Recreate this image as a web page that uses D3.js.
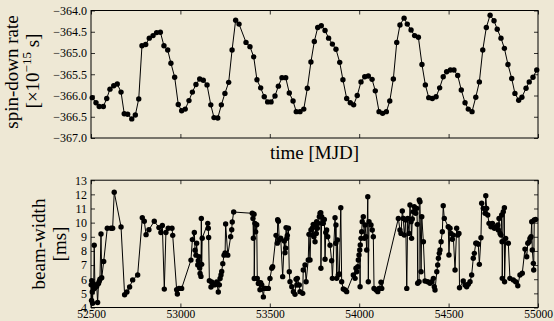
<!DOCTYPE html>
<html>
<head>
<meta charset="utf-8">
<script src="https://cdn.jsdelivr.net/npm/d3@7"></script>
<style>
  html, body { margin: 0; padding: 0; background: #eee8d5; }
  svg { display: block; }
  text { font-family: "Liberation Serif", "DejaVu Serif", serif; fill: #000; }
</style>
</head>
<body>
<figure id="chart" style="margin:0"></figure>
<script>
// spin-down rate (top panel)
const spinMjd = [52507, 52528, 52546, 52569, 52588, 52606, 52627, 52647, 52668, 52686,
  52705, 52728, 52748, 52767, 52785, 52806, 52826, 52847, 52867, 52888,
  52908, 52929, 52947, 52968, 52988, 53007, 53027, 53048, 53067, 53087,
  53108, 53128, 53149, 53170, 53188, 53209, 53229, 53249, 53270, 53289,
  53309, 53328, 53367, 53389, 53410, 53428, 53449, 53469, 53488, 53507,
  53529, 53548, 53568, 53589, 53609, 53630, 53648, 53669, 53690, 53710,
  53730, 53749, 53768, 53788, 53809, 53829, 53850, 53870, 53891, 53909,
  53930, 53950, 53969, 53989, 54010, 54031, 54051, 54072, 54090, 54111,
  54131, 54152, 54171, 54191, 54210, 54228, 54251, 54269, 54290, 54310,
  54331, 54351, 54370, 54389, 54409, 54430, 54450, 54470, 54489, 54510,
  54530, 54551, 54571, 54592, 54610, 54631, 54652, 54672, 54691, 54711,
  54732, 54754, 54772, 54793, 54812, 54832, 54853, 54871, 54892, 54910,
  54933, 54951, 54972, 54993];
const spinRate = [-366.05, -366.17, -366.26, -366.26, -366.07, -365.85, -365.77, -365.73, -365.92, -366.43,
  -366.44, -366.55, -366.46, -366.08, -364.83, -364.80, -364.65, -364.59, -364.52, -364.51,
  -364.83, -364.93, -365.24, -365.57, -366.21, -366.36, -366.32, -366.12, -365.92, -365.74,
  -365.61, -365.64, -365.75, -366.22, -366.52, -366.53, -366.22, -365.95, -365.69, -364.93,
  -364.23, -364.32, -364.75, -364.85, -365.09, -365.63, -365.82, -366.03, -366.15, -366.15,
  -366.01, -365.78, -365.58, -365.58, -365.94, -366.13, -366.38, -366.38, -366.32, -365.83,
  -365.21, -364.73, -364.40, -364.36, -364.47, -364.65, -364.79, -364.91, -365.22, -365.63,
  -366.07, -366.17, -366.22, -366.00, -365.68, -365.56, -365.54, -365.62, -365.89, -366.38,
  -366.42, -366.38, -366.13, -365.61, -364.75, -364.34, -364.18, -364.32, -364.46, -364.59,
  -364.63, -365.27, -365.75, -366.05, -366.07, -366.03, -365.82, -365.56, -365.44, -365.40,
  -365.40, -365.53, -365.87, -366.17, -366.32, -366.38, -366.04, -365.68, -364.93, -364.40,
  -364.11, -364.24, -364.44, -364.65, -364.89, -365.27, -365.60, -365.95, -366.11, -366.04,
  -365.83, -365.68, -365.57, -365.40];

// beam-width (bottom panel)
const beamMjd = [52501, 52503, 52504, 52507, 52509, 52511, 52515, 52518, 52522, 52527,
  52532, 52537, 52542, 52546, 52550, 52556, 52560, 52571, 52591, 52612,
  52621, 52630, 52668, 52688, 52701, 52716, 52733, 52761,
  52787, 52798, 52808, 52824, 52854, 52880, 52891, 52899, 52910, 52919,
  52932, 52953, 52957, 52979, 52983, 52992, 53007,
  53059, 53067, 53078, 53082, 53087, 53091, 53097, 53100, 53104, 53108,
  53110, 53115, 53117, 53119, 53122, 53153, 53156, 53158, 53162, 53171,
  53175, 53185, 53194, 53203, 53212, 53218, 53222, 53227, 53231, 53237,
  53244, 53250, 53253, 53265, 53281, 53287, 53290, 53298,
  53402, 53406, 53408, 53412, 53413, 53417, 53421, 53427, 53430, 53436,
  53440, 53445, 53449, 53455, 53464, 53469, 53477, 53492, 53501, 53511,
  53516, 53535, 53542, 53544, 53548, 53553, 53561, 53572, 53581, 53585,
  53589, 53591, 53595, 53598, 53604, 53609, 53613, 53623, 53632, 53641,
  53647, 53651, 53654, 53665, 53669, 53684, 53687, 53697, 53703, 53715,
  53719, 53725, 53730, 53738, 53740, 53743, 53747, 53753, 53757, 53760,
  53762, 53766, 53771, 53777, 53781, 53785, 53786, 53790, 53794, 53799,
  53805, 53809, 53813, 53818, 53824, 53837, 53846, 53850, 53865, 53869,
  53870, 53874, 53878, 53883, 53889, 53897, 53902, 53911, 53921, 53930,
  53967, 53977, 53982, 53986, 53992, 53995, 53999, 54003, 54005, 54006,
  54010, 54014, 54017, 54023, 54029, 54033, 54038, 54042, 54048, 54051,
  54055, 54066, 54073, 54079, 54083, 54094, 54104, 54111, 54122, 54126,
  54219, 54228, 54234, 54241, 54247, 54252, 54260, 54266, 54271, 54279,
  54284, 54290, 54293, 54297, 54303, 54308, 54316, 54322, 54325, 54327,
  54335, 54336, 54340, 54346, 54350, 54359, 54368, 54383, 54396, 54406,
  54415, 54420, 54424, 54434, 54439, 54443, 54448, 54452, 54458, 54465,
  54470, 54476,
  54498, 54502, 54508, 54513, 54521, 54526, 54536, 54545, 54551, 54558,
  54561, 54582, 54592, 54601, 54610, 54620, 54629, 54638, 54644, 54652,
  54657, 54666, 54672, 54681,
  54685, 54694, 54704, 54708, 54713, 54719, 54726, 54737, 54745, 54756,
  54765, 54775, 54778, 54782, 54788, 54793, 54797, 54799, 54800, 54806,
  54812, 54813, 54819, 54834, 54843, 54862, 54875, 54887, 54899, 54912,
  54927, 54937, 54943, 54951, 54955, 54961, 54965, 54968, 54974, 54976,
  54979, 54987];
const beamWidth = [5.6, 4.5, 5.9, 5.1, 4.3, 5.7, 5.3, 8.4, 5.4, 5.6,
  5.5, 4.35, 5.7, 5.85, 6.0, 9.2, 6.1, 7.25, 9.6, 9.6,
  9.6, 12.15, 9.7, 4.9, 5.1, 5.45, 5.95, 6.3,
  10.35, 10.1, 9.15, 9.5, 10.1, 9.65, 9.3, 9.8, 5.3, 9.3,
  9.6, 9.6, 9.1, 5.25, 4.95, 5.35, 5.35,
  7.35, 8.8, 9.3, 8.05, 7.7, 8.55, 7.0, 7.3, 7.6, 6.8,
  6.4, 6.2, 10.3, 7.05, 8.9, 9.95, 9.6, 8.95, 5.9, 5.45,
  5.8, 5.6, 5.6, 5.8, 5.1, 5.6, 6.05, 6.3, 6.55, 7.1,
  7.7, 7.85, 9.9, 7.7, 9.0, 9.5, 10.05, 10.75,
  10.66, 10.3, 8.9, 10.6, 6.05, 9.95, 9.35, 9.85, 6.05, 5.7,
  5.75, 5.25, 5.75, 5.6, 4.75, 5.35, 5.35, 5.35, 6.05, 6.77,
  6.88, 9.1, 8.55, 10.2, 10.1, 8.77, 8.9, 6.18, 8.7, 7.87,
  8.2, 9.65, 8.9, 9.1, 9.6, 6.53, 5.82, 5.47, 5.12, 4.93,
  6.0, 5.59, 6.06, 5.59, 5.12, 5.0, 6.65, 7.0, 5.82, 7.36,
  9.17, 7.36, 9.48, 9.6, 9.12, 9.88, 9.0, 8.65, 9.83, 9.24,
  10.07, 9.6, 9.95, 10.42, 10.66, 10.7, 6.77, 10.42, 9.95, 9.95,
  10.23, 7.41, 9.3, 9.48, 9.0, 8.4, 7.3, 6.06, 10.35, 8.54,
  9.83, 6.06, 8.77, 6.3, 6.37, 11.06, 5.82, 5.31, 5.24, 5.12,
  6.3, 6.06, 6.77, 6.53, 6.88, 7.36, 7.71, 8.06, 5.47, 8.42,
  8.89, 9.36, 10.07, 10.42, 8.89, 9.83, 9.0, 8.06, 11.83, 5.82,
  10.07, 9.83, 9.48, 9.0, 5.35, 5.24, 5.12, 5.35, 5.78, 5.35,
  10.3, 9.48, 9.24, 10.82, 10.3, 9.12, 10.19, 5.35, 10.3, 9.24,
  11.25, 10.07, 8.89, 10.26, 10.77, 11.13, 10.66, 11.01, 9.88, 5.71,
  5.82, 11.6, 11.48, 6.53, 10.42, 8.65, 5.87, 5.82, 5.71, 5.82,
  6.06, 5.47, 5.24, 6.53, 7.0, 7.48, 7.83, 8.06, 8.65, 9.36,
  11.2, 10.3,
  9.71, 7.71, 9.6, 9.24, 8.82, 9.12, 6.65, 9.6, 9.12, 9.24,
  5.4, 5.87, 5.59, 5.47, 5.64, 5.82, 6.3, 7.48, 7.83, 8.54,
  8.54, 8.47, 7.05, 8.93,
  11.37, 11.01, 10.66, 11.9, 11.01, 10.54, 9.95, 9.71, 9.95, 9.6,
  9.7, 9.83, 9.48, 10.3, 9.24, 9.12, 10.54, 8.65, 6.06, 10.77,
  11.06, 5.82, 8.89, 8.54, 6.06, 5.94, 5.82, 5.54, 6.3, 6.42,
  8.13, 7.59, 8.54, 8.65, 8.89, 9.0, 10.07, 8.06, 7.12, 6.65,
  10.19, 10.23];

const timeTicks = [52500, 53000, 53500, 54000, 54500, 55000];
const spinTicks = [-364.0, -364.5, -365.0, -365.5, -366.0, -366.5, -367.0];
const beamTicks = [4, 5, 6, 7, 8, 9, 10, 11, 12, 13];

const W = 554, H = 321;
const left = 91, right = 538;

const svg = d3.select("figure#chart")
  .append("svg")
  .attr("width", W)
  .attr("height", H);

svg.append("rect").attr("width", W).attr("height", H).attr("fill", "#eee8d5");

const x = d3.scaleLinear()
  .domain([52500, 55000])
  .range([left, right]);

function drawPanel(top, bottom, yDomain, yTicks, yFmt, xs, ys, showXLabels) {
  const y = d3.scaleLinear().domain(yDomain).range([bottom, top]);
  const g = svg.append("g");

  // y axes, ticks pointing inward
  g.append("g")
    .attr("transform", "translate(" + left + ",0)")
    .call(d3.axisLeft(y).tickValues(yTicks).tickFormat(yFmt).tickSize(-4).tickPadding(4));
  g.append("g")
    .attr("transform", "translate(" + right + ",0)")
    .call(d3.axisRight(y).tickValues(yTicks).tickFormat("").tickSize(-4));

  // x axes
  g.append("g")
    .attr("transform", "translate(0," + top + ")")
    .call(d3.axisTop(x).tickValues(timeTicks).tickFormat("").tickSize(-4));
  g.append("g")
    .attr("class", "xb")
    .attr("transform", "translate(0," + bottom + ")")
    .call(d3.axisBottom(x).tickValues(timeTicks)
      .tickFormat(showXLabels ? d3.format("d") : "")
      .tickSize(-4).tickPadding(4));

  g.selectAll(".domain").remove();
  g.selectAll(".tick line").attr("stroke", "#000").attr("stroke-width", 0.8);
  g.selectAll(".tick text")
    .attr("font-family", "Liberation Serif, serif")
    .attr("font-size", 12)
    .attr("fill", "#000");

  const pts = xs.map((d, i) => [d, ys[i]]);

  g.append("path")
    .datum(pts)
    .attr("fill", "none")
    .attr("stroke", "#000")
    .attr("stroke-width", 1)
    .attr("d", d3.line().x(d => x(d[0])).y(d => y(d[1])));

  g.selectAll("circle")
    .data(pts)
    .enter()
    .append("circle")
    .attr("cx", d => x(d[0]))
    .attr("cy", d => y(d[1]))
    .attr("r", 2.7)
    .attr("fill", "#000");

  g.append("rect")
    .attr("x", left).attr("y", top)
    .attr("width", right - left).attr("height", bottom - top)
    .attr("fill", "none").attr("stroke", "#000").attr("stroke-width", 1);
  return g;
}

drawPanel(10.5, 138, [-367, -364], spinTicks, d3.format(".1f"), spinMjd, spinRate, false);
const bot = drawPanel(180.2, 307.5, [4, 13], beamTicks, d3.format("d"), beamMjd, beamWidth, true);
bot.selectAll(".xb .tick text").attr("dy", "0.58em").attr("font-size", 11.5);

// axis labels
svg.append("text")
  .attr("x", (left + right) / 2).attr("y", 159)
  .attr("text-anchor", "middle").attr("font-size", 19)
  .text("time [MJD]");

svg.append("text")
  .attr("transform", "translate(18,72) rotate(-90)")
  .attr("text-anchor", "middle").attr("font-size", 19)
  .text("spin-down rate");

const unit = svg.append("text")
  .attr("transform", "translate(39,71) rotate(-90)")
  .attr("text-anchor", "middle").attr("font-size", 19);
unit.append("tspan").text("[×10");
unit.append("tspan").attr("font-size", 13).attr("dy", -8).text("−15");
unit.append("tspan").attr("dy", 8).text(" s]");

svg.append("text")
  .attr("transform", "translate(45,244) rotate(-90)")
  .attr("text-anchor", "middle").attr("font-size", 19)
  .text("beam-width");

svg.append("text")
  .attr("transform", "translate(66,244) rotate(-90)")
  .attr("text-anchor", "middle").attr("font-size", 19)
  .text("[ms]");
</script>
</body>
</html>
